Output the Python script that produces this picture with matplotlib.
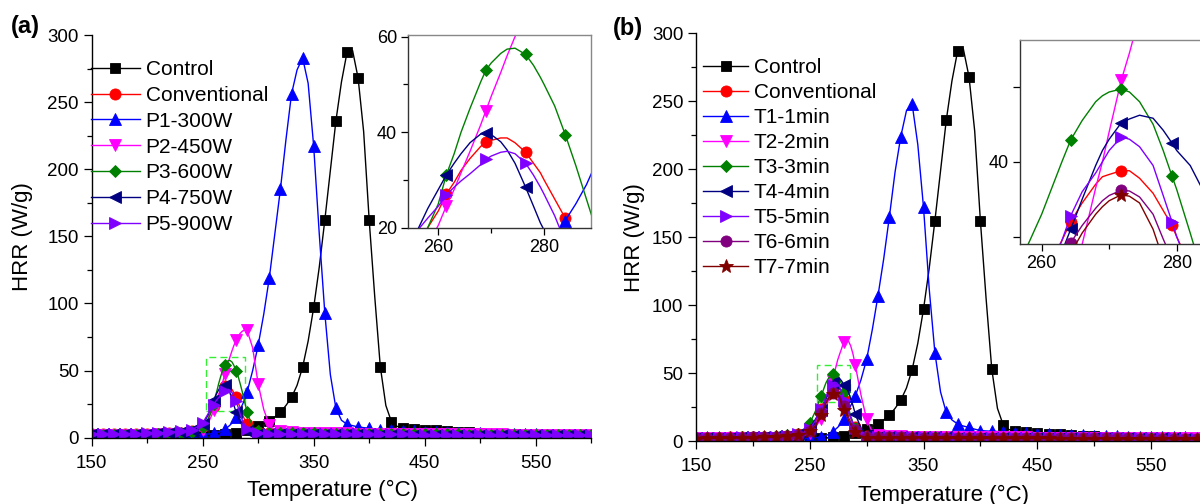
import matplotlib
matplotlib.use('Agg')
import matplotlib.pyplot as plt
from matplotlib.patches import Rectangle
from matplotlib.ticker import MultipleLocator

plt.rcParams['font.family'] = ['Liberation Sans', 'DejaVu Sans']

# ---------------- data ----------------
TEMP = [150, 160, 170, 180, 190, 200, 210, 220, 230, 240,
        245, 250, 255, 258, 260, 261.5, 263, 264.3, 266, 268,
        269, 270, 271.8, 273, 274.5, 276.5, 278, 279.3, 280, 282,
        284, 286, 288, 290,
        295, 300, 305, 310, 315, 320, 325, 330, 335, 340,
        345, 350, 355, 360, 365, 370, 375, 380, 385, 390,
        395, 400, 405, 410, 415, 420, 425, 430,
        440, 450, 460, 470, 480, 490, 500, 510, 520, 530,
        540, 550, 560, 570, 580, 590, 600]

CONTROL = [1.5, 1.5, 1.5, 1.5, 1.6, 1.6, 1.7, 1.8, 1.9, 2.0,
           2.0, 2.1, 2.2, 2.3, 2.3, 2.4, 2.4, 2.5, 2.5, 2.6,
           2.6, 2.7, 2.8, 2.9, 3.0, 3.2, 3.4, 3.6, 3.7, 4.0,
           4.3, 4.8, 5.3, 6.0,
           7.5, 8.8, 10.7, 12.6, 15.5, 19, 24, 30, 39, 52.5,
           72, 97, 127, 162, 199, 236, 265, 287, 288.5, 268,
           228, 162, 105, 53, 24, 12, 8.5, 7.3,
           6.5, 6, 5.5, 5, 4.5, 4, 3.5, 3, 2.7, 2.5,
           2.3, 2.2, 2.1, 2.0, 2.0, 1.9, 1.9]

CONVENTIONAL = [2.5, 2.5, 2.5, 2.6, 2.7, 2.8, 3.0, 3.3, 3.8, 5.0,
                6.5, 8.5, 14, 20, 23.5, 27, 29.5, 32, 34.5, 37,
                38, 38.3, 38.8, 38.8, 37.8, 35.8, 33.5, 31.5, 30, 26,
                22, 17, 13, 10,
                5.5, 4, 3.5, 3.3, 3.2, 3.2, 3.1, 3.1, 3.0, 3.0,
                3.0, 2.9, 2.9, 2.9, 2.8, 2.8, 2.8, 2.7, 2.7, 2.7,
                2.6, 2.6, 2.6, 2.5, 2.5, 2.5, 2.5, 2.4,
                2.4, 2.3, 2.3, 2.2, 2.2, 2.1, 2.1, 2.0, 2.0, 2.0,
                1.9, 1.9, 1.9, 1.8, 1.8, 1.8, 1.8]

P1_300W = [2, 2, 2, 2, 2, 2, 2, 2.1, 2.2, 2.3,
           2.4, 2.5, 2.7, 3.0, 3.2, 3.5, 3.8, 4.2, 4.8, 5.6,
           6.0, 6.5, 7.4, 8.2, 9.3, 11, 12.8, 14.3, 15.3, 18,
           21.5, 25, 29, 34,
           50, 69, 92, 119, 152, 185, 222, 256, 274, 283,
           264, 217, 152, 93, 47, 22, 13, 10, 9, 8,
           7.5, 7, 6.5, 6, 5.8, 5.6, 5.4, 5.2,
           5, 4.6, 4.3, 4, 3.7, 3.4, 3.2, 3, 2.8, 2.6,
           2.5, 2.4, 2.3, 2.2, 2.1, 2, 2]

P2_450W = [2, 2, 2, 2.1, 2.2, 2.3, 2.5, 2.7, 3.0, 3.5,
           4.5, 6, 11, 16.5, 20.5, 24.5, 28, 31.5, 36, 41.5,
           44.5, 47.5, 52.5, 56, 60, 65, 68.5, 71, 72.5, 75.5,
           78, 79.5, 80.5, 80,
           67, 40, 21, 9.5, 6, 4.8, 4.3, 4.0, 3.8, 3.7,
           3.6, 3.5, 3.5, 3.4, 3.4, 3.3, 3.3, 3.2, 3.2, 3.1,
           3.1, 3.0, 3.0, 3.0, 2.9, 2.9, 2.9, 2.8,
           2.8, 2.7, 2.7, 2.6, 2.6, 2.5, 2.5, 2.4, 2.4, 2.3,
           2.3, 2.2, 2.2, 2.1, 2.1, 2.0, 2.0]

P3_600W = [2, 2, 2, 2.1, 2.2, 2.3, 2.5, 2.8, 3.2, 4.0,
           5.5, 8, 14, 20, 25, 31, 35.5, 40, 45, 50.5,
           53, 54.5, 56.5, 57.4, 57.6, 56.3, 54, 51.5, 50, 45.5,
           39.5, 33, 26, 19,
           8, 5, 4, 3.7, 3.6, 3.5, 3.5, 3.4, 3.4, 3.3,
           3.3, 3.2, 3.2, 3.1, 3.1, 3.0, 3.0, 3.0, 2.9, 2.9,
           2.9, 2.8, 2.8, 2.8, 2.7, 2.7, 2.7, 2.6,
           2.6, 2.5, 2.5, 2.4, 2.4, 2.3, 2.3, 2.2, 2.2, 2.2,
           2.1, 2.1, 2.1, 2.0, 2.0, 2.0, 2.0]

P4_750W = [2.5, 2.5, 2.6, 2.7, 2.8, 3.0, 3.2, 3.6, 4.2, 5.5,
           7, 10, 17, 24, 28, 31, 33.5, 35.5, 37.8, 39.6,
           39.8, 39.5, 38, 36.3, 33.5, 28.5, 24.5, 21, 19.5, 15,
           11.5, 8.5, 6.5, 5,
           3.5, 3, 3, 2.9, 2.9, 2.8, 2.8, 2.8, 2.7, 2.7,
           2.7, 2.6, 2.6, 2.6, 2.6, 2.5, 2.5, 2.5, 2.5, 2.4,
           2.4, 2.4, 2.4, 2.3, 2.3, 2.3, 2.3, 2.3,
           2.2, 2.2, 2.2, 2.1, 2.1, 2.1, 2.0, 2.0, 2.0, 2.0,
           1.9, 1.9, 1.9, 1.9, 1.8, 1.8, 1.8]

P5_900W = [2.5, 2.6, 2.7, 2.8, 3.0, 3.2, 3.5, 4.0, 4.8, 6.0,
           8, 11, 18, 22, 24.5, 26.8, 28.5, 29.8, 31.3, 33.2,
           34.3, 35, 35.8, 36, 35.5, 33.5, 31, 28.5, 27, 22.5,
           17, 12.5, 9, 6.5,
           4, 3.2, 3.0, 3.0, 2.9, 2.9, 2.9, 2.8, 2.8, 2.8,
           2.8, 2.7, 2.7, 2.7, 2.7, 2.6, 2.6, 2.6, 2.6, 2.5,
           2.5, 2.5, 2.5, 2.5, 2.4, 2.4, 2.4, 2.4,
           2.3, 2.3, 2.3, 2.2, 2.2, 2.2, 2.1, 2.1, 2.1, 2.1,
           2.0, 2.0, 2.0, 2.0, 1.9, 1.9, 1.9]

T1_1MIN = [1.5, 1.5, 1.5, 1.5, 1.5, 1.5, 1.6, 1.6, 1.7, 1.8,
           1.9, 2.0, 2.3, 2.6, 2.9, 3.2, 3.6, 4.0, 4.7, 5.6,
           6.2, 6.8, 8.0, 8.9, 10, 11.8, 13.5, 15, 16, 19,
           22.5, 26, 29.5, 33,
           45, 60, 82, 107, 134, 165, 198, 224, 243, 248,
           218, 172, 112, 65, 36, 21, 15.5, 12.5, 11, 10,
           8.7, 7.7, 7.4, 7.2, 7.0, 6.8, 6.5, 6.2,
           5.8, 5.4, 5.0, 4.7, 4.4, 4.1, 3.8, 3.6, 3.4, 3.2,
           3.0, 2.9, 2.8, 2.7, 2.6, 2.5, 2.4]

T2_2MIN = [2, 2, 2, 2, 2.1, 2.2, 2.3, 2.5, 2.8, 3.3,
           4.3, 6, 10, 14, 16.5, 19, 21, 24.5, 29, 36.5,
           40, 44, 50.9, 54.5, 59.5, 64.5, 68, 71.5, 73, 74.5,
           73.5, 70, 64, 56,
           34, 16, 6.5, 4.5, 4, 3.8, 3.6, 3.5, 3.4, 3.3,
           3.3, 3.2, 3.2, 3.1, 3.1, 3.0, 3.0, 3.0, 2.9, 2.9,
           2.9, 2.8, 2.8, 2.8, 2.7, 2.7, 2.7, 2.6,
           2.6, 2.5, 2.5, 2.4, 2.4, 2.3, 2.3, 2.2, 2.2, 2.2,
           2.1, 2.1, 2.1, 2.0, 2.0, 2.0, 2.0]

T3_3MIN = [2.2, 2.3, 2.4, 2.5, 2.7, 2.9, 3.2, 3.6, 4.3, 5.5,
           7.5, 13, 22, 29, 33, 36.5, 40, 42.9, 45.5, 48,
           48.8, 49.3, 49.7, 49.3, 48, 45, 41.5, 38.1, 36.3, 30.5,
           24.5, 18.5, 13.5, 9.5,
           4.5, 3.2, 3.0, 2.9, 2.9, 2.8, 2.8, 2.8, 2.7, 2.7,
           2.7, 2.6, 2.6, 2.6, 2.6, 2.5, 2.5, 2.5, 2.5, 2.4,
           2.4, 2.4, 2.4, 2.3, 2.3, 2.3, 2.3, 2.3,
           2.2, 2.2, 2.2, 2.1, 2.1, 2.1, 2.0, 2.0, 2.0, 2.0,
           1.9, 1.9, 1.9, 1.9, 1.8, 1.8, 1.8]

T4_4MIN = [2.2, 2.3, 2.4, 2.5, 2.6, 2.8, 3.0, 3.4, 4.0, 5.0,
           6.5, 9.5, 16, 20.5, 23, 25.5, 28, 31, 35, 39.5,
           41.5, 43, 45.2, 45.7, 46.2, 45.8, 44.2, 42.5, 41.5, 39.5,
           36, 31, 26, 20,
           9.5, 4.5, 3.2, 3.0, 2.9, 2.9, 2.8, 2.8, 2.8, 2.7,
           2.7, 2.7, 2.6, 2.6, 2.6, 2.6, 2.5, 2.5, 2.5, 2.5,
           2.4, 2.4, 2.4, 2.4, 2.3, 2.3, 2.3, 2.3,
           2.2, 2.2, 2.2, 2.1, 2.1, 2.1, 2.0, 2.0, 2.0, 2.0,
           1.9, 1.9, 1.9, 1.9, 1.8, 1.8, 1.8]

T5_5MIN = [2.2, 2.3, 2.4, 2.5, 2.6, 2.8, 3.0, 3.3, 3.9, 4.8,
           6.2, 9, 15, 20.5, 23.5, 26, 29.5, 32.8, 36, 38.5,
           40, 41.5, 43.3, 43, 42, 39.5, 35.5, 32, 30, 25.5,
           21, 17, 13, 9.5,
           4.5, 3.0, 2.9, 2.9, 2.8, 2.8, 2.8, 2.7, 2.7, 2.7,
           2.7, 2.6, 2.6, 2.6, 2.6, 2.5, 2.5, 2.5, 2.5, 2.4,
           2.4, 2.4, 2.4, 2.3, 2.3, 2.3, 2.3, 2.3,
           2.2, 2.2, 2.2, 2.1, 2.1, 2.1, 2.0, 2.0, 2.0, 2.0,
           1.9, 1.9, 1.9, 1.9, 1.8, 1.8, 1.8]

T6_6MIN = [2.0, 2.1, 2.2, 2.3, 2.4, 2.6, 2.8, 3.1, 3.6, 4.4,
           5.5, 7.5, 12, 17, 20.5, 23.5, 26.5, 29.2, 31.5, 33.8,
           34.8, 35.5, 36.2, 36.1, 35.3, 33, 29.7, 27, 25.5, 21.5,
           17.5, 14, 11, 8,
           4, 2.8, 2.7, 2.7, 2.6, 2.6, 2.6, 2.6, 2.5, 2.5,
           2.5, 2.5, 2.4, 2.4, 2.4, 2.4, 2.3, 2.3, 2.3, 2.3,
           2.3, 2.2, 2.2, 2.2, 2.2, 2.2, 2.1, 2.1,
           2.1, 2.1, 2.0, 2.0, 2.0, 2.0, 1.9, 1.9, 1.9, 1.9,
           1.8, 1.8, 1.8, 1.8, 1.7, 1.7, 1.7]

T7_7MIN = [1.8, 1.9, 2.0, 2.1, 2.2, 2.4, 2.6, 2.9, 3.4, 4.2,
           5.2, 7, 11, 15.5, 19, 22, 25, 27.8, 30.5, 33,
           34, 34.8, 35.6, 35.4, 34.5, 31, 27, 24.5, 23, 19.5,
           15.5, 12, 9, 6.5,
           3.5, 2.5, 2.4, 2.4, 2.4, 2.3, 2.3, 2.3, 2.3, 2.2,
           2.2, 2.2, 2.2, 2.2, 2.1, 2.1, 2.1, 2.1, 2.1, 2.0,
           2.0, 2.0, 2.0, 2.0, 2.0, 1.9, 1.9, 1.9,
           1.9, 1.9, 1.9, 1.8, 1.8, 1.8, 1.8, 1.8, 1.8, 1.7,
           1.7, 1.7, 1.7, 1.7, 1.7, 1.6, 1.6]

LABELS_A = ['Control', 'Conventional', 'P1-300W', 'P2-450W', 'P3-600W', 'P4-750W', 'P5-900W']
SERIES_A = [CONTROL, CONVENTIONAL, P1_300W, P2_450W, P3_600W, P4_750W, P5_900W]
LABELS_B = ['Control', 'Conventional', 'T1-1min', 'T2-2min', 'T3-3min', 'T4-4min',
            'T5-5min', 'T6-6min', 'T7-7min']
SERIES_B = [CONTROL, CONVENTIONAL, T1_1MIN, T2_2MIN, T3_3MIN, T4_4MIN, T5_5MIN, T6_6MIN, T7_7MIN]

XTICKS_MAIN = [150, 250, 350, 450, 550]
YTICKS_MAIN = [0, 50, 100, 150, 200, 250, 300]
INSET_A_MARK_T = [261.5, 269, 276.5, 284]
INSET_B_MARK_T = [264.3, 271.8, 279.3]

# ---------------- styles ----------------
STY_A = [('black', 's', 7), ('#ff0000', 'o', 8), ('#0000ff', '^', 8.5),
         ('#ff00ff', 'v', 8.5), ('#008000', 'D', 6.5), ('#000080', '<', 8.5), ('#8000ff', '>', 8.5)]
STY_B = [('black', 's', 7), ('#ff0000', 'o', 8), ('#0000ff', '^', 8.5),
         ('#ff00ff', 'v', 8.5), ('#008000', 'D', 6.5), ('#000080', '<', 8.5), ('#8000ff', '>', 8.5),
         ('#800080', 'o', 8), ('#800000', '*', 10.5)]

main_marks = [i for i, t in enumerate(TEMP) if t % 10 == 0]
ins_a_marks = [i for i, t in enumerate(TEMP) if t in INSET_A_MARK_T]
ins_b_marks = [i for i, t in enumerate(TEMP) if t in INSET_B_MARK_T]

fig = plt.figure(figsize=(12, 5.04), dpi=100)

LW = 1.0
TICKFS = 13.5


def style_main(ax):
    ax.set_xlim(150, 600)
    ax.set_ylim(0, 300)
    ax.spines['top'].set_visible(False)
    ax.spines['right'].set_visible(False)
    for s in ('left', 'bottom'):
        ax.spines[s].set_linewidth(1.0)
    ax.set_xticks(XTICKS_MAIN)
    ax.xaxis.set_minor_locator(MultipleLocator(50))
    ax.set_yticks(YTICKS_MAIN)
    ax.yaxis.set_minor_locator(MultipleLocator(25))
    ax.tick_params(which='major', direction='out', length=5.7, width=0.9,
                   labelsize=TICKFS, pad=3.5, colors='black')
    ax.tick_params(axis='x', which='major', pad=6.5)
    ax.tick_params(which='minor', direction='out', length=3.3, width=0.9)
    ax.set_xlabel('Temperature (°C)', fontsize=16)
    ax.set_ylabel('HRR (W/g)', fontsize=16)


def draw(ax, series, styles, labels, marks):
    for y, (c, m, ms), lab in zip(series, styles, labels):
        ax.plot(TEMP, y, color=c, lw=LW, marker=m, ms=ms, mfc=c, mec=c, mew=0.6,
                markevery=marks, label=lab)


def style_inset(ax):
    for s in ('left', 'bottom'):
        ax.spines[s].set_color('#333333')
        ax.spines[s].set_linewidth(1.0)
    for s in ('top', 'right'):
        ax.spines[s].set_color('#888888')
        ax.spines[s].set_linewidth(1.0)
    ax.tick_params(which='major', direction='out', length=5, width=0.9,
                   labelsize=13, pad=3)
    ax.tick_params(which='minor', direction='out', length=5, width=0.9)


# ---------------- panel (a) ----------------
axA = fig.add_axes([91.7 / 1200, (504 - 437.7) / 504, 499.5 / 1200, 402.7 / 504])
draw(axA, SERIES_A, STY_A, LABELS_A, main_marks)
style_main(axA)
axA.yaxis.set_label_coords(-0.117, 0.5)
axA.xaxis.set_label_coords(0.483, -0.105)
axA.add_patch(Rectangle((253, 20), 35, 40, fill=False, ec='#33ee33', lw=1.0,
                        ls=(0, (5, 3))))
legA = axA.legend(loc='upper left', bbox_to_anchor=(91 / 1200, 1 - 60 / 504),
                  bbox_transform=fig.transFigure, frameon=False, fontsize=15,
                  numpoints=1, handlelength=2.35, handletextpad=0.27,
                  labelspacing=0.33, borderpad=0, borderaxespad=0)

insA = fig.add_axes([408.3 / 1200, (504 - 227.7) / 504, 182.4 / 1200, 192.7 / 504])
draw(insA, SERIES_A, STY_A, LABELS_A, ins_a_marks)
insA.set_xlim(254.33, 288.81)
insA.set_ylim(20, 60.36)
insA.set_xticks([260, 280])
insA.xaxis.set_minor_locator(MultipleLocator(10))
insA.set_yticks([20, 40, 60])
insA.yaxis.set_minor_locator(MultipleLocator(10))
style_inset(insA)
insA.tick_params(which='minor', length=3.5)

# ---------------- panel (b) ----------------
axB = fig.add_axes([696 / 1200, (504 - 441) / 504, 511.9 / 1200, 407.7 / 504])
draw(axB, SERIES_B, STY_B, LABELS_B, main_marks)
style_main(axB)
axB.yaxis.set_label_coords(-0.100, 0.5)
axB.xaxis.set_label_coords(0.483, -0.108)
axB.add_patch(Rectangle((256, 29), 29, 27.2, fill=False, ec='#33ee33', lw=1.0,
                        ls=(0, (5, 3))))
legB = axB.legend(loc='upper left', bbox_to_anchor=(703 / 1200, 1 - 58 / 504),
                  bbox_transform=fig.transFigure, frameon=False, fontsize=15,
                  numpoints=1, handlelength=2.16, handletextpad=0.27,
                  labelspacing=0.29, borderpad=0, borderaxespad=0)

insB = fig.add_axes([1020 / 1200, (504 - 244) / 504, 197 / 1200, 204 / 504])
draw(insB, SERIES_B, STY_B, LABELS_B, ins_b_marks)
insB.set_xlim(256.79, 285.97)
insB.set_ylim(29.03, 56.23)
insB.set_xticks([260, 280])
insB.xaxis.set_minor_locator(MultipleLocator(10))
insB.set_yticks([30, 40, 50])
insB.set_yticklabels(['', '40', ''])
style_inset(insB)
insB.tick_params(which='minor', length=3.5)

fig.text(11 / 1200, 1 - 26 / 504, '(a)', fontsize=17, fontweight='bold',
         ha='left', va='center')
fig.text(613 / 1200, 1 - 29 / 504, '(b)', fontsize=17, fontweight='bold',
         ha='left', va='center')

fig.savefig('out.png', dpi=100)
